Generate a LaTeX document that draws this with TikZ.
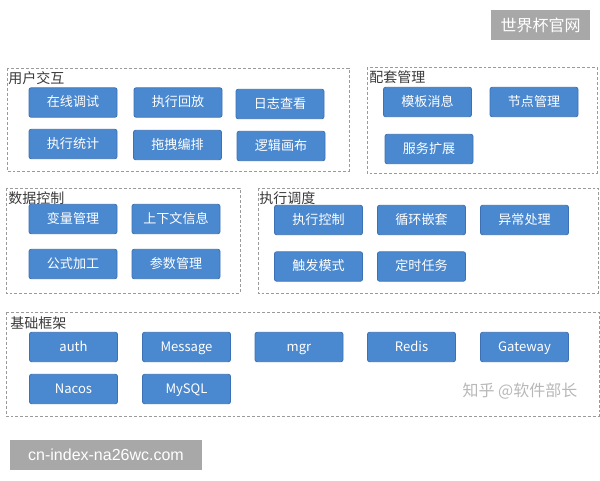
\documentclass[tikz,border=0pt]{standalone}
\usepackage{fontspec}
\setmainfont{Noto Sans CJK SC}
\newfontfamily\wmfont{Liberation Sans}
\definecolor{boxblue}{HTML}{4A88CF}
\definecolor{boxedge}{HTML}{3C72B5}
\definecolor{panelgray}{HTML}{9A9A9A}
\definecolor{labelgray}{HTML}{3A3A3A}
\definecolor{wmgray}{HTML}{A8A8A8}
\tikzset{
  boxnode/.style={draw=boxedge, line width=0.6pt, fill=boxblue, rounded corners=1.5pt,
    minimum width=66pt, minimum height=22pt, inner sep=0pt, text=white,
    text height=7.6pt, text depth=1.6pt,
    font=\fontsize{9.8pt}{11pt}\selectfont},
  panel/.style={draw=panelgray, line width=0.6pt, dash pattern=on 2.2pt off 1.5pt},
  panellabel/.style={anchor=west, inner sep=0pt, text=labelgray,
    font=\fontsize{10.5pt}{12pt}\selectfont},
}
\begin{document}
\begin{tikzpicture}[x=0.75pt,y=-0.75pt]
\useasboundingbox[fill=white] (0,0) rectangle (600,480);

% watermarks
\node[fill=wmgray, minimum width=74.25pt, minimum height=22.5pt, inner sep=0pt, text=white,
  font=\fontsize{12pt}{14pt}\selectfont] (wmtop) at (540.5,25) {世界杯官网};
\node[fill=wmgray, minimum width=144pt, minimum height=22.5pt, inner sep=0pt, text=white,
  font=\wmfont\fontsize{12pt}{14pt}\selectfont] (wmbot) at (106,455) {cn-index-na26wc.com};

% panel: 用户交互
\draw[panel] (7,68) rectangle (349,171);
\node[panellabel] (l1) at (8,78) {用户交互};
\node[boxnode] (a1) at (73,102.5) {在线调试};
\node[boxnode] (a2) at (178,102.5) {执行回放};
\node[boxnode] (a3) at (280,104) {日志查看};
\node[boxnode] (a4) at (73,144) {执行统计};
\node[boxnode] (a5) at (177.5,145) {拖拽编排};
\node[boxnode] (a6) at (281,146) {逻辑画布};

% panel: 配套管理
\draw[panel] (367,67) rectangle (597,173);
\node[panellabel] (l2) at (369,77) {配套管理};
\node[boxnode] (b1) at (427.5,102) {模板消息};
\node[boxnode] (b2) at (534,102) {节点管理};
\node[boxnode] (b3) at (429,149) {服务扩展};

% panel: 数据控制
\draw[panel] (6,188) rectangle (240,293);
\node[panellabel] (l3) at (8,198) {数据控制};
\node[boxnode] (c1) at (73,219) {变量管理};
\node[boxnode] (c2) at (176,219) {上下文信息};
\node[boxnode] (c3) at (73,264) {公式加工};
\node[boxnode] (c4) at (176,264) {参数管理};

% panel: 执行调度
\draw[panel] (258,188) rectangle (598,293);
\node[panellabel] (l4) at (259,198) {执行调度};
\node[boxnode] (d1) at (318.5,220) {执行控制};
\node[boxnode] (d2) at (421.5,220) {循环嵌套};
\node[boxnode] (d3) at (524.5,220) {异常处理};
\node[boxnode] (d4) at (318.5,266.5) {触发模式};
\node[boxnode] (d5) at (421.5,266.5) {定时任务};

% panel: 基础框架
\draw[panel] (6,312) rectangle (599,416);
\node[panellabel] (l5) at (10,323) {基础框架};
\node[boxnode] (e1) at (73.5,347) {auth};
\node[boxnode] (e2) at (186.5,347) {Message};
\node[boxnode] (e3) at (299,347) {mgr};
\node[boxnode] (e4) at (411.5,347) {Redis};
\node[boxnode] (e5) at (524.5,347) {Gateway};
\node[boxnode] (e6) at (73.5,389) {Nacos};
\node[boxnode] (e7) at (186.5,389) {MySQL};

\node[text=black!28, inner sep=0pt, font=\fontsize{12pt}{14pt}\selectfont] (zh) at (520,391) {知乎 @软件部长};
\end{tikzpicture}
\end{document}
